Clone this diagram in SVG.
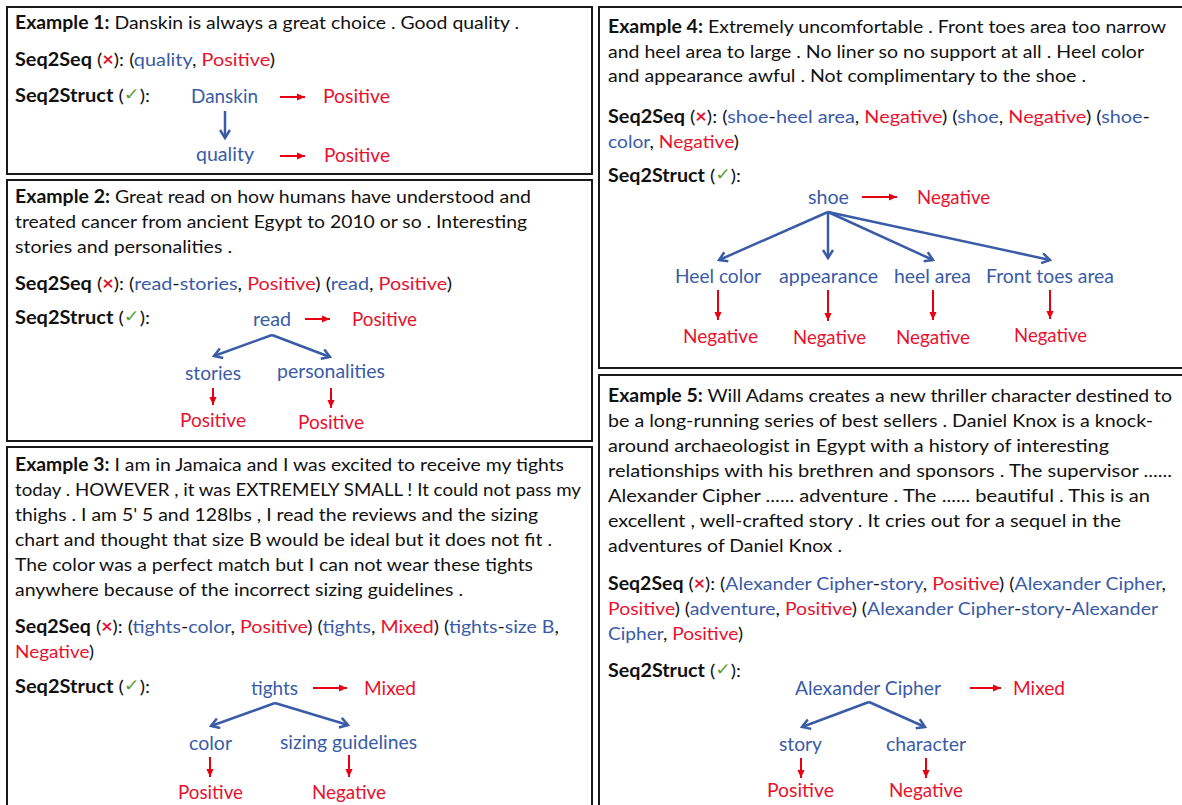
<svg xmlns="http://www.w3.org/2000/svg" width="1182" height="805" viewBox="0 0 1182 805">
<style>
.t{font-family:Lato,"Liberation Sans",sans-serif;font-size:18px;fill:#111}
.b{font-weight:bold}
.bl{fill:#3A5BA6}
.rd{fill:#E8112D}
.x{fill:#E8112D;font-weight:bold}
.ck{fill:#5E9E38;font-family:"DejaVu Sans",sans-serif;font-size:17px}
.lab{font-family:Lato,"Liberation Sans",sans-serif;font-size:20px}
.box{fill:#fff;stroke:#1a1a1a;stroke-width:2}
.ab{stroke:#3A5BA6;stroke-width:2.5;fill:none;marker-end:url(#hb)}
.ar{stroke:#E60012;stroke-width:2;fill:none;marker-end:url(#hr)}
</style>
<defs>
<marker id="hb" markerUnits="userSpaceOnUse" viewBox="0 0 12 12" refX="10" refY="6" markerWidth="12" markerHeight="12" orient="auto">
<path d="M2,1 L10,6 L2,11" fill="none" stroke="#3A5BA6" stroke-width="2.5"/>
</marker>
<marker id="hr" markerUnits="userSpaceOnUse" viewBox="0 0 10 10" refX="9" refY="5" markerWidth="9" markerHeight="9" orient="auto">
<path d="M0,1 L9,5 L0,9 Z" fill="#E60012"/>
</marker>
</defs>
<rect width="1182" height="805" fill="#fff"/>

<g id="example1">
<rect class="box" x="7" y="7" width="585" height="167"/>
<text class="t" x="15" y="29" textLength="504" lengthAdjust="spacingAndGlyphs"><tspan class="b">Example 1:</tspan> Danskin is always a great choice . Good quality .</text>
<text class="t" x="15" y="66" textLength="260" lengthAdjust="spacingAndGlyphs"><tspan class="b">Seq2Seq</tspan> (<tspan class="x">×</tspan>): (<tspan class="bl">quality</tspan>, <tspan class="rd">Positive</tspan>)</text>
<text class="t" x="15" y="102" textLength="135" lengthAdjust="spacingAndGlyphs"><tspan class="b">Seq2Struct</tspan> (<tspan class="ck" dy="-2">✓</tspan><tspan dy="2">):</tspan></text>
<text class="lab bl" x="191" y="103" textLength="67" lengthAdjust="spacingAndGlyphs">Danskin</text>
<text class="lab rd" x="323" y="103" textLength="67" lengthAdjust="spacingAndGlyphs">Positive</text>
<text class="lab bl" x="196" y="161" textLength="58" lengthAdjust="spacingAndGlyphs">quality</text>
<text class="lab rd" x="324" y="162" textLength="66" lengthAdjust="spacingAndGlyphs">Positive</text>
</g>

<g id="example2">
<rect class="box" x="7" y="180" width="585" height="261"/>
<text class="t" x="15" y="203" textLength="516" lengthAdjust="spacingAndGlyphs"><tspan class="b">Example 2:</tspan> Great read on how humans have understood and</text>
<text class="t" x="15" y="228" textLength="512" lengthAdjust="spacingAndGlyphs">treated cancer from ancient Egypt to 2010 or so . Interesting</text>
<text class="t" x="15" y="253" textLength="217" lengthAdjust="spacingAndGlyphs">stories and personalities .</text>
<text class="t" x="15" y="290" textLength="437" lengthAdjust="spacingAndGlyphs"><tspan class="b">Seq2Seq</tspan> (<tspan class="x">×</tspan>): (<tspan class="bl">read</tspan>-<tspan class="bl">stories</tspan>, <tspan class="rd">Positive</tspan>) (<tspan class="bl">read</tspan>, <tspan class="rd">Positive</tspan>)</text>
<text class="t" x="15" y="324" textLength="135" lengthAdjust="spacingAndGlyphs"><tspan class="b">Seq2Struct</tspan> (<tspan class="ck" dy="-2">✓</tspan><tspan dy="2">):</tspan></text>
<text class="lab bl" x="253" y="326" textLength="38" lengthAdjust="spacingAndGlyphs">read</text>
<text class="lab rd" x="352" y="326" textLength="65" lengthAdjust="spacingAndGlyphs">Positive</text>
<text class="lab bl" x="185" y="380" textLength="56" lengthAdjust="spacingAndGlyphs">stories</text>
<text class="lab bl" x="277" y="378" textLength="108" lengthAdjust="spacingAndGlyphs">personalities</text>
<text class="lab rd" x="180" y="427" textLength="66" lengthAdjust="spacingAndGlyphs">Positive</text>
<text class="lab rd" x="298" y="429" textLength="66" lengthAdjust="spacingAndGlyphs">Positive</text>
</g>

<g id="example3">
<rect class="box" x="7" y="447" width="585" height="370"/>
<text class="t" x="15" y="471" textLength="549" lengthAdjust="spacingAndGlyphs"><tspan class="b">Example 3:</tspan> I am in Jamaica and I was excited to receive my tights</text>
<text class="t" x="15" y="496" textLength="566" lengthAdjust="spacingAndGlyphs">today . HOWEVER , it was EXTREMELY SMALL ! It could not pass my</text>
<text class="t" x="15" y="521" textLength="523" lengthAdjust="spacingAndGlyphs">thighs . I am 5' 5 and 128lbs , I read the reviews and the sizing</text>
<text class="t" x="15" y="546" textLength="537" lengthAdjust="spacingAndGlyphs">chart and thought that size B would be ideal but it does not fit .</text>
<text class="t" x="15" y="571" textLength="518" lengthAdjust="spacingAndGlyphs">The color was a perfect match but I can not wear these tights</text>
<text class="t" x="15" y="596" textLength="448" lengthAdjust="spacingAndGlyphs">anywhere because of the incorrect sizing guidelines .</text>
<text class="t" x="15" y="633" textLength="544" lengthAdjust="spacingAndGlyphs"><tspan class="b">Seq2Seq</tspan> (<tspan class="x">×</tspan>): (<tspan class="bl">tights</tspan>-<tspan class="bl">color</tspan>, <tspan class="rd">Positive</tspan>) (<tspan class="bl">tights</tspan>, <tspan class="rd">Mixed</tspan>) (<tspan class="bl">tights</tspan>-<tspan class="bl">size B</tspan>,</text>
<text class="t" x="15" y="658" textLength="79" lengthAdjust="spacingAndGlyphs"><tspan class="rd">Negative</tspan>)</text>
<text class="t" x="15" y="693" textLength="135" lengthAdjust="spacingAndGlyphs"><tspan class="b">Seq2Struct</tspan> (<tspan class="ck" dy="-2">✓</tspan><tspan dy="2">):</tspan></text>
<text class="lab bl" x="251" y="695" textLength="47" lengthAdjust="spacingAndGlyphs">tights</text>
<text class="lab rd" x="364" y="695" textLength="52" lengthAdjust="spacingAndGlyphs">Mixed</text>
<text class="lab bl" x="189" y="750" textLength="43" lengthAdjust="spacingAndGlyphs">color</text>
<text class="lab bl" x="280" y="749" textLength="137" lengthAdjust="spacingAndGlyphs">sizing guidelines</text>
<text class="lab rd" x="178" y="799" textLength="65" lengthAdjust="spacingAndGlyphs">Positive</text>
<text class="lab rd" x="312" y="799" textLength="74" lengthAdjust="spacingAndGlyphs">Negative</text>
</g>

<g id="example4">
<rect class="box" x="599" y="7" width="590" height="361"/>
<text class="t" x="608" y="33" textLength="558" lengthAdjust="spacingAndGlyphs"><tspan class="b">Example 4:</tspan> Extremely uncomfortable . Front toes area too narrow</text>
<text class="t" x="608" y="58" textLength="536" lengthAdjust="spacingAndGlyphs">and heel area to large . No liner so no support at all . Heel color</text>
<text class="t" x="608" y="82" textLength="478" lengthAdjust="spacingAndGlyphs">and appearance awful . Not complimentary to the shoe .</text>
<text class="t" x="608" y="123" textLength="542" lengthAdjust="spacingAndGlyphs"><tspan class="b">Seq2Seq</tspan> (<tspan class="x">×</tspan>): (<tspan class="bl">shoe</tspan>-<tspan class="bl">heel area</tspan>, <tspan class="rd">Negative</tspan>) (<tspan class="bl">shoe</tspan>, <tspan class="rd">Negative</tspan>) (<tspan class="bl">shoe</tspan>-</text>
<text class="t" x="608" y="148" textLength="131" lengthAdjust="spacingAndGlyphs"><tspan class="bl">color</tspan>, <tspan class="rd">Negative</tspan>)</text>
<text class="t" x="608" y="182" textLength="133" lengthAdjust="spacingAndGlyphs"><tspan class="b">Seq2Struct</tspan> (<tspan class="ck" dy="-2">✓</tspan><tspan dy="2">):</tspan></text>
<text class="lab bl" x="808" y="204" textLength="41" lengthAdjust="spacingAndGlyphs">shoe</text>
<text class="lab rd" x="917" y="204" textLength="73" lengthAdjust="spacingAndGlyphs">Negative</text>
<text class="lab bl" x="675" y="283" textLength="86" lengthAdjust="spacingAndGlyphs">Heel color</text>
<text class="lab bl" x="779" y="283" textLength="99" lengthAdjust="spacingAndGlyphs">appearance</text>
<text class="lab bl" x="894" y="283" textLength="77" lengthAdjust="spacingAndGlyphs">heel area</text>
<text class="lab bl" x="986" y="283" textLength="128" lengthAdjust="spacingAndGlyphs">Front toes area</text>
<text class="lab rd" x="683" y="343" textLength="75" lengthAdjust="spacingAndGlyphs">Negative</text>
<text class="lab rd" x="793" y="344" textLength="73" lengthAdjust="spacingAndGlyphs">Negative</text>
<text class="lab rd" x="896" y="344" textLength="74" lengthAdjust="spacingAndGlyphs">Negative</text>
<text class="lab rd" x="1014" y="342" textLength="73" lengthAdjust="spacingAndGlyphs">Negative</text>
</g>

<g id="example5">
<rect class="box" x="599" y="375" width="590" height="440"/>
<text class="t" x="608" y="402" textLength="564" lengthAdjust="spacingAndGlyphs"><tspan class="b">Example 5:</tspan> Will Adams creates a new thriller character destined to</text>
<text class="t" x="608" y="427" textLength="545" lengthAdjust="spacingAndGlyphs">be a long-running series of best sellers . Daniel Knox is a knock-</text>
<text class="t" x="608" y="452" textLength="501" lengthAdjust="spacingAndGlyphs">around archaeologist in Egypt with a history of interesting</text>
<text class="t" x="608" y="477" textLength="564" lengthAdjust="spacingAndGlyphs">relationships with his brethren and sponsors . The supervisor ......</text>
<text class="t" x="608" y="502" textLength="542" lengthAdjust="spacingAndGlyphs">Alexander Cipher ...... adventure . The ...... beautiful . This is an</text>
<text class="t" x="608" y="527" textLength="513" lengthAdjust="spacingAndGlyphs">excellent , well-crafted story . It cries out for a sequel in the</text>
<text class="t" x="608" y="552" textLength="234" lengthAdjust="spacingAndGlyphs">adventures of Daniel Knox .</text>
<text class="t" x="608" y="590" textLength="558" lengthAdjust="spacingAndGlyphs"><tspan class="b">Seq2Seq</tspan> (<tspan class="x">×</tspan>): (<tspan class="bl">Alexander Cipher</tspan>-<tspan class="bl">story</tspan>, <tspan class="rd">Positive</tspan>) (<tspan class="bl">Alexander Cipher</tspan>,</text>
<text class="t" x="608" y="615" textLength="550" lengthAdjust="spacingAndGlyphs"><tspan class="rd">Positive</tspan>) (<tspan class="bl">adventure</tspan>, <tspan class="rd">Positive</tspan>) (<tspan class="bl">Alexander Cipher</tspan>-<tspan class="bl">story</tspan>-<tspan class="bl">Alexander</tspan></text>
<text class="t" x="608" y="640" textLength="135" lengthAdjust="spacingAndGlyphs"><tspan class="bl">Cipher</tspan>, <tspan class="rd">Positive</tspan>)</text>
<text class="t" x="608" y="677" textLength="133" lengthAdjust="spacingAndGlyphs"><tspan class="b">Seq2Struct</tspan> (<tspan class="ck" dy="-2">✓</tspan><tspan dy="2">):</tspan></text>
<text class="lab bl" x="795" y="695" textLength="146" lengthAdjust="spacingAndGlyphs">Alexander Cipher</text>
<text class="lab rd" x="1013" y="695" textLength="52" lengthAdjust="spacingAndGlyphs">Mixed</text>
<text class="lab bl" x="779" y="751" textLength="43" lengthAdjust="spacingAndGlyphs">story</text>
<text class="lab bl" x="886" y="751" textLength="80" lengthAdjust="spacingAndGlyphs">character</text>
<text class="lab rd" x="767" y="797" textLength="67" lengthAdjust="spacingAndGlyphs">Positive</text>
<text class="lab rd" x="889" y="797" textLength="74" lengthAdjust="spacingAndGlyphs">Negative</text>
</g>

<g id="connectors">
<line class="ar" x1="280" y1="97" x2="305" y2="97"/>
<line class="ar" x1="280" y1="156" x2="305" y2="156"/>
<line class="ab" x1="225" y1="111" x2="225" y2="138"/>
<line class="ar" x1="305" y1="319" x2="330" y2="319"/>
<line class="ab" x1="272" y1="335" x2="214" y2="356"/>
<line class="ab" x1="272" y1="335" x2="330" y2="357"/>
<line class="ar" x1="213" y1="388" x2="213" y2="405"/>
<line class="ar" x1="331" y1="388" x2="331" y2="408"/>
<line class="ar" x1="313" y1="688" x2="347" y2="688"/>
<line class="ab" x1="275" y1="703" x2="211" y2="726"/>
<line class="ab" x1="275" y1="703" x2="348" y2="725"/>
<line class="ar" x1="210" y1="757" x2="210" y2="777"/>
<line class="ar" x1="349" y1="755" x2="349" y2="777"/>
<line class="ar" x1="862" y1="197" x2="897" y2="197"/>
<line class="ab" x1="828" y1="212" x2="719" y2="260"/>
<line class="ab" x1="828" y1="212" x2="828" y2="258"/>
<line class="ab" x1="828" y1="212" x2="933" y2="260"/>
<line class="ab" x1="828" y1="212" x2="1050" y2="260"/>
<line class="ar" x1="718" y1="290" x2="718" y2="320"/>
<line class="ar" x1="828" y1="290" x2="828" y2="321"/>
<line class="ar" x1="933" y1="290" x2="933" y2="320"/>
<line class="ar" x1="1050" y1="290" x2="1050" y2="319"/>
<line class="ar" x1="970" y1="688" x2="1001" y2="688"/>
<line class="ab" x1="869" y1="702" x2="802" y2="727"/>
<line class="ab" x1="869" y1="702" x2="925" y2="727"/>
<line class="ar" x1="801" y1="758" x2="801" y2="778"/>
<line class="ar" x1="926" y1="758" x2="926" y2="778"/>
</g>
</svg>
